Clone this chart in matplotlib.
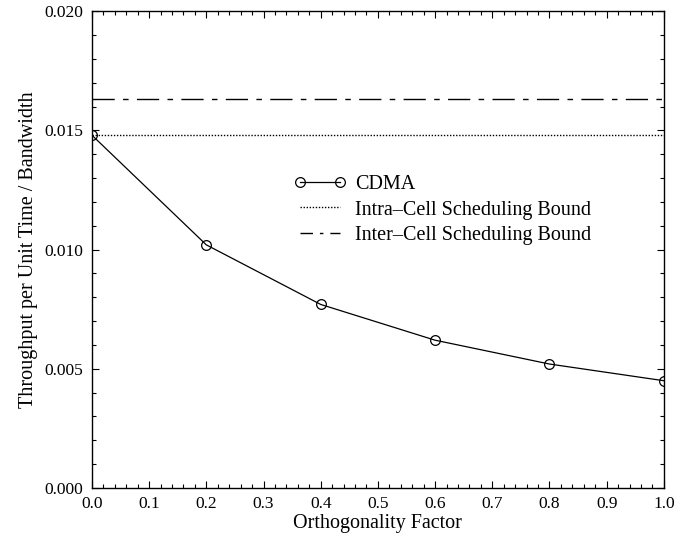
import matplotlib.pyplot as plt
from matplotlib.lines import Line2D
from matplotlib.ticker import MultipleLocator, FormatStrFormatter

# data
orth = [0.0, 0.2, 0.4, 0.6, 0.8, 1.0]
cdma = [0.0148, 0.0102, 0.0077, 0.0062, 0.0052, 0.0045]
intra_bound = 0.0148
inter_bound = 0.0163

plt.rcParams['font.family'] = ['Liberation Serif', 'DejaVu Serif']


def main():
    fig = plt.figure(figsize=(6.76, 5.36), dpi=100)
    ax = fig.add_axes([0.136, 0.0896, 0.846, 0.8894])

    l1, = ax.plot(orth, cdma, color='black', linewidth=0.9, marker='o',
                  markersize=7, markerfacecolor='none', markeredgewidth=0.9,
                  label="CDMA")
    l2 = ax.axhline(intra_bound, color='black', linewidth=1.0,
                    linestyle=(0, (1, 1.2)), label="Intra\u2013Cell Scheduling Bound")
    ax.axhline(inter_bound, color='black', linewidth=1.0,
               linestyle=(0, (16, 6, 4, 6)))
    # legend key for the bound uses a shorter dash pattern, like the original
    l3 = Line2D([], [], color='black', linewidth=1.0,
                linestyle=(0, (9, 5, 2.5, 5)), label="Inter\u2013Cell Scheduling Bound")

    ax.set_xlim(0, 1)
    ax.set_ylim(0, 0.02)
    ax.xaxis.set_major_locator(MultipleLocator(0.1))
    ax.xaxis.set_minor_locator(MultipleLocator(0.02))
    ax.yaxis.set_major_locator(MultipleLocator(0.005))
    ax.yaxis.set_minor_locator(MultipleLocator(0.001))
    ax.xaxis.set_major_formatter(FormatStrFormatter('%.1f'))
    ax.yaxis.set_major_formatter(FormatStrFormatter('%.3f'))
    ax.tick_params(which='both', direction='in', top=True, right=True,
                   labelsize=12.5, width=0.8, pad=6)
    ax.tick_params(which='major', length=5)
    ax.tick_params(which='minor', length=3)
    for s in ax.spines.values():
        s.set_linewidth(1.0)

    ax.set_xlabel("Orthogonality Factor", fontsize=14.5, labelpad=1)
    ax.set_ylabel("Throughput per Unit Time / Bandwidth", fontsize=14.5, labelpad=5)

    ax.legend(handles=[l1, l2, l3], loc='upper left', bbox_to_anchor=(0.335, 0.677),
              frameon=False, fontsize=14.5, numpoints=2, handlelength=2.6,
              handletextpad=0.45, labelspacing=0.3, borderpad=0)

    fig.savefig("out.png", dpi=100)


if __name__ == "__main__":
    main()
